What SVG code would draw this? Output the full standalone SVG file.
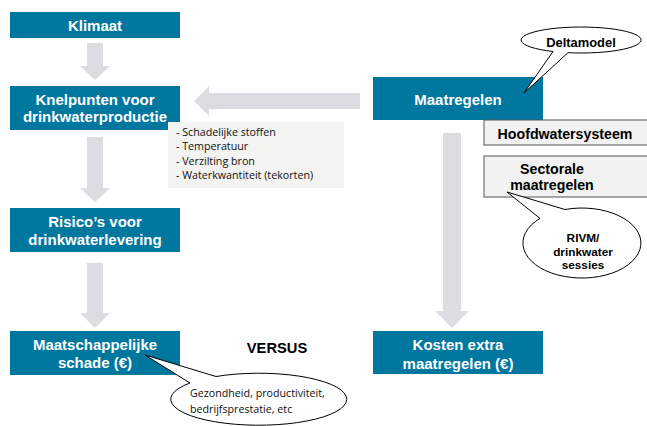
<svg xmlns="http://www.w3.org/2000/svg" width="647" height="426" viewBox="0 0 647 426">
<style>
.box{fill:#00779f}
.wt{font-family:"Liberation Sans",Arial,sans-serif;font-weight:bold;font-size:15px;fill:#ffffff;text-anchor:middle}
.bt{font-family:"Liberation Sans",Arial,sans-serif;font-weight:bold;fill:#000000;text-anchor:middle}
.arr{fill:#dcdde0}
.call{fill:#ffffff;stroke:#000000;stroke-width:1}
.gbox{fill:#f2f2f2;stroke:#555555;stroke-width:1}
.lt{font-family:"Open Sans","Noto Sans",sans-serif;font-size:10.7px;fill:#111111}
</style>
<rect width="647" height="426" fill="#ffffff"/>
<g id="connectors">
<polygon class="arr" points="87,43 103,43 103,66 110,66 95,80 80,66 87,66"/>
<polygon class="arr" points="87,137 103,137 103,188 110,188 95,202 80,188 87,188"/>
<polygon class="arr" points="87,263 103,263 103,313 110,313 95,328 80,313 87,313"/>
<polygon class="arr" points="443,133 461,133 461,311 469,311 452,328 435,311 443,311"/>
<polygon class="arr" points="360,93 360,109 209,109 209,116 194,101 209,86 209,93"/>
</g>
<g id="klimaat">
<rect class="box" x="10" y="12" width="170" height="26"/>
<text class="wt" x="95" y="31">Klimaat</text>
</g>
<g id="knelpunten">
<rect class="box" x="10" y="86" width="170" height="44"/>
<text class="wt" x="95" y="105">Knelpunten voor</text>
<text class="wt" x="95" y="122">drinkwaterproductie</text>
</g>
<g id="knelpunten-lijst">
<rect x="168" y="122" width="176" height="66" fill="#f3f3f1"/>
<text class="lt" x="176" y="136">- Schadelijke stoffen</text>
<text class="lt" x="176" y="150">- Temperatuur</text>
<text class="lt" x="176" y="165">- Verzilting bron</text>
<text class="lt" x="176" y="179">- Waterkwantiteit (tekorten)</text>
</g>
<g id="risicos">
<rect class="box" x="10" y="208" width="170" height="44"/>
<text class="wt" x="95" y="227">Risico’s voor</text>
<text class="wt" x="95" y="245">drinkwaterlevering</text>
</g>
<g id="schade">
<rect class="box" x="10" y="331" width="170" height="44"/>
<text class="wt" x="95" y="350">Maatschappelijke</text>
<text class="wt" x="95" y="368">schade (€)</text>
</g>
<g id="versus">
<text class="bt" x="277" y="353" font-size="14.7">VERSUS</text>
</g>
<g id="gezondheid">
<path class="call" d="M 216 376.5 A 88 26 0 1 1 190 383 L 145 355 Z"/>
<text class="lt" x="190" y="397" font-size="12.8">Gezondheid, productiviteit,</text>
<text class="lt" x="190" y="413" font-size="12.8">bedrijfsprestatie, etc</text>
</g>
<g id="maatregelen">
<rect class="box" x="373" y="77" width="170" height="43"/>
<text class="wt" x="458" y="105">Maatregelen</text>
</g>
<g id="deltamodel">
<path class="call" d="M 568 52.7 A 60 13 0 1 0 553 51.5 L 524 93 Z"/>
<text class="bt" x="581" y="47" font-size="12.9">Deltamodel</text>
</g>
<g id="hoofdwatersysteem">
<rect class="gbox" x="484" y="120" width="170" height="25"/>
<text class="bt" x="565" y="139" font-size="14.2">Hoofdwatersysteem</text>
</g>
<g id="sectorale">
<rect class="gbox" x="484" y="156" width="170" height="41"/>
<text class="bt" x="552" y="174" font-size="14.2">Sectorale</text>
<text class="bt" x="552" y="190" font-size="14.2">maatregelen</text>
</g>
<g id="rivm">
<path class="call" d="M 565 209.5 A 59 35 0 1 1 540 218.4 L 507 192 Z"/>
<text class="bt" x="583" y="242" font-size="11.8">RIVM/</text>
<text class="bt" x="583" y="255.5" font-size="11.8">drinkwater</text>
<text class="bt" x="583" y="269" font-size="11.8">sessies</text>
</g>
<g id="kosten">
<rect class="box" x="373" y="331" width="170" height="43"/>
<text class="wt" x="458" y="350">Kosten extra</text>
<text class="wt" x="458" y="369">maatregelen (€)</text>
</g>
</svg>
